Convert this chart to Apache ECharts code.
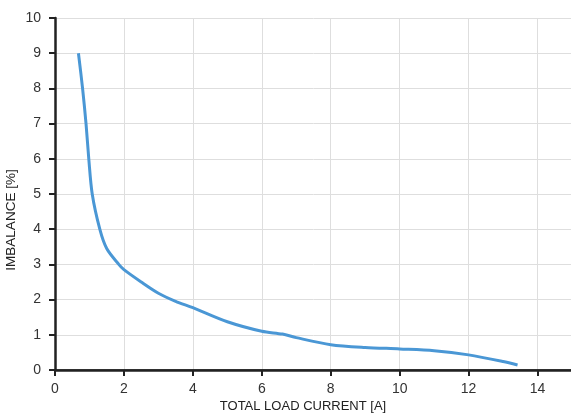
<!DOCTYPE html>
<html>
<head>
<meta charset="utf-8">
<script src="https://cdn.jsdelivr.net/npm/echarts@6/dist/echarts.min.js"></script>
<style>
html,body{margin:0;padding:0;background:#fff;}
#chart{width:571px;height:414px;}
</style>
</head>
<body>
<div id="chart"></div>
<script>
const xValues = [0.68, 0.80, 0.90, 0.98, 1.08, 1.30, 1.50, 1.85, 2.0, 2.5, 3.0, 3.5, 4.0, 5.0, 6.0, 6.6, 7.0, 8.0, 9.0, 10.0, 11.0, 12.0, 13.0, 13.42];
const yValues = [9.0, 8.0, 7.0, 6.0, 5.0, 4.0, 3.45, 3.0, 2.85, 2.5, 2.18, 1.95, 1.77, 1.37, 1.1, 1.02, 0.92, 0.72, 0.64, 0.6, 0.55, 0.43, 0.24, 0.14];
const xTicks = [0, 2, 4, 6, 8, 10, 12, 14];
const yTicks = [0, 1, 2, 3, 4, 5, 6, 7, 8, 9, 10];

const chart = echarts.init(document.getElementById('chart'), null, {renderer: 'canvas'});
const nameFont = '"Liberation Sans Narrow", "Arial Narrow", "Liberation Sans", Arial, sans-serif';
const tickFont = '"Liberation Sans", Arial, sans-serif';

chart.setOption({
  animation: false,
  backgroundColor: '#fff',
  grid: {left: 55, top: 18, width: 517, bottom: 44, containLabel: false, outerBoundsMode: 'none'},
  xAxis: [{
    type: 'value', min: 0, max: 15, interval: 2,
    name: 'TOTAL LOAD CURRENT [A]', nameLocation: 'middle', nameGap: 29.5, nameMoveOverlap: false,
    nameTextStyle: {fontFamily: nameFont, fontSize: 13, color: '#222', padding: [0, 21, 0, 0]},
    axisLine: {show: true, onZero: false, lineStyle: {color: '#222', width: 2.5}},
    axisTick: {show: true, length: 6, lineStyle: {color: '#222', width: 2}},
    axisLabel: {fontFamily: tickFont, fontSize: 14, color: '#333', margin: 12,
      formatter: v => xTicks.includes(v) ? String(v) : ''},
    splitLine: {show: true, lineStyle: {color: '#dedede', width: 1}}
  }, {
    type: 'value', min: 0, max: 15, position: 'top',
    axisLine: {show: true, lineStyle: {color: '#222', width: 1.5}},
    axisTick: {show: false}, axisLabel: {show: false}, splitLine: {show: false}
  }],
  yAxis: {
    type: 'value', min: 0, max: 10, interval: 1,
    name: 'IMBALANCE [%]', nameLocation: 'middle', nameGap: 37, nameMoveOverlap: false,
    nameTextStyle: {fontFamily: nameFont, fontSize: 13.5, color: '#222', padding: [0, 52, 0, 0]},
    axisLine: {show: true, onZero: false, lineStyle: {color: '#222', width: 2.5}},
    axisTick: {show: true, length: 6, lineStyle: {color: '#222', width: 2}},
    axisLabel: {fontFamily: tickFont, fontSize: 14, color: '#333', margin: 14,
      formatter: v => yTicks.includes(v) ? String(v) : ''},
    splitLine: {show: true, lineStyle: {color: '#dedede', width: 1}}
  },
  series: [{
    type: 'line',
    data: xValues.map((x, i) => [x, yValues[i]]),
    smooth: 0.3,
    showSymbol: false,
    lineStyle: {color: '#4a97d5', width: 3},
    itemStyle: {color: '#4a97d5'}
  }]
});
</script>
</body>
</html>
